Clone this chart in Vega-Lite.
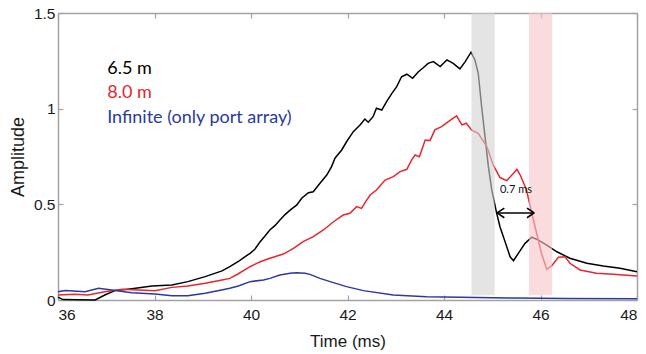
{
  "$schema": "https://vega.github.io/schema/vega-lite/v6.json",
  "width": 579,
  "height": 287,
  "autosize": {"type": "none"},
  "padding": {"left": 58, "top": 13, "right": 9, "bottom": 54},
  "background": "white",
  "config": {
    "view": {"stroke": null},
    "axis": {
      "grid": false,
      "domainColor": "#a3a3a3",
      "domainWidth": 1.5,
      "tickColor": "#a3a3a3",
      "tickSize": -5,
      "tickWidth": 1.2,
      "labelFont": "Liberation Sans, Arial, sans-serif",
      "labelFontSize": 15.5,
      "labelColor": "#1a1a1a",
      "titleFont": "Liberation Sans, Arial, sans-serif",
      "titleFontWeight": "normal",
      "titleColor": "#1a1a1a",
      "format": "~g"
    }
  },
  "datasets": {
    "curves": [
      {"s": "6.5 m", "t": 36.0, "a": 0.015},
      {"s": "6.5 m", "t": 36.1, "a": 0.002},
      {"s": "6.5 m", "t": 36.77, "a": 0.0},
      {"s": "6.5 m", "t": 36.97, "a": 0.026},
      {"s": "6.5 m", "t": 37.18, "a": 0.049},
      {"s": "6.5 m", "t": 37.53, "a": 0.059},
      {"s": "6.5 m", "t": 37.95, "a": 0.073},
      {"s": "6.5 m", "t": 38.36, "a": 0.078},
      {"s": "6.5 m", "t": 38.69, "a": 0.096},
      {"s": "6.5 m", "t": 39.05, "a": 0.122},
      {"s": "6.5 m", "t": 39.4, "a": 0.152},
      {"s": "6.5 m", "t": 39.56, "a": 0.174},
      {"s": "6.5 m", "t": 39.73, "a": 0.2},
      {"s": "6.5 m", "t": 39.85, "a": 0.222},
      {"s": "6.5 m", "t": 39.98, "a": 0.244},
      {"s": "6.5 m", "t": 40.08, "a": 0.265},
      {"s": "6.5 m", "t": 40.19, "a": 0.305},
      {"s": "6.5 m", "t": 40.29, "a": 0.335},
      {"s": "6.5 m", "t": 40.39, "a": 0.366},
      {"s": "6.5 m", "t": 40.5, "a": 0.39},
      {"s": "6.5 m", "t": 40.6, "a": 0.418},
      {"s": "6.5 m", "t": 40.7, "a": 0.445},
      {"s": "6.5 m", "t": 40.81, "a": 0.47},
      {"s": "6.5 m", "t": 40.95, "a": 0.497},
      {"s": "6.5 m", "t": 41.05, "a": 0.532},
      {"s": "6.5 m", "t": 41.19, "a": 0.561},
      {"s": "6.5 m", "t": 41.29, "a": 0.566},
      {"s": "6.5 m", "t": 41.43, "a": 0.61},
      {"s": "6.5 m", "t": 41.57, "a": 0.653},
      {"s": "6.5 m", "t": 41.67, "a": 0.697},
      {"s": "6.5 m", "t": 41.74, "a": 0.741},
      {"s": "6.5 m", "t": 41.88, "a": 0.784},
      {"s": "6.5 m", "t": 41.98, "a": 0.827},
      {"s": "6.5 m", "t": 42.12, "a": 0.88},
      {"s": "6.5 m", "t": 42.26, "a": 0.915},
      {"s": "6.5 m", "t": 42.36, "a": 0.946},
      {"s": "6.5 m", "t": 42.43, "a": 0.929},
      {"s": "6.5 m", "t": 42.53, "a": 0.958},
      {"s": "6.5 m", "t": 42.6, "a": 1.002},
      {"s": "6.5 m", "t": 42.71, "a": 0.993},
      {"s": "6.5 m", "t": 42.81, "a": 1.037},
      {"s": "6.5 m", "t": 42.92, "a": 1.08},
      {"s": "6.5 m", "t": 43.02, "a": 1.115},
      {"s": "6.5 m", "t": 43.12, "a": 1.167},
      {"s": "6.5 m", "t": 43.23, "a": 1.18},
      {"s": "6.5 m", "t": 43.35, "a": 1.159},
      {"s": "6.5 m", "t": 43.47, "a": 1.193},
      {"s": "6.5 m", "t": 43.57, "a": 1.214},
      {"s": "6.5 m", "t": 43.67, "a": 1.237},
      {"s": "6.5 m", "t": 43.78, "a": 1.246},
      {"s": "6.5 m", "t": 43.92, "a": 1.22},
      {"s": "6.5 m", "t": 44.06, "a": 1.255},
      {"s": "6.5 m", "t": 44.19, "a": 1.237},
      {"s": "6.5 m", "t": 44.33, "a": 1.208},
      {"s": "6.5 m", "t": 44.44, "a": 1.246},
      {"s": "6.5 m", "t": 44.56, "a": 1.295},
      {"s": "6.5 m", "t": 44.64, "a": 1.255},
      {"s": "6.5 m", "t": 44.71, "a": 1.185},
      {"s": "6.5 m", "t": 44.78, "a": 1.01},
      {"s": "6.5 m", "t": 44.85, "a": 0.854},
      {"s": "6.5 m", "t": 44.92, "a": 0.697},
      {"s": "6.5 m", "t": 44.99, "a": 0.575},
      {"s": "6.5 m", "t": 45.09, "a": 0.455},
      {"s": "6.5 m", "t": 45.16, "a": 0.383},
      {"s": "6.5 m", "t": 45.3, "a": 0.279},
      {"s": "6.5 m", "t": 45.37, "a": 0.226},
      {"s": "6.5 m", "t": 45.44, "a": 0.205},
      {"s": "6.5 m", "t": 45.54, "a": 0.244},
      {"s": "6.5 m", "t": 45.68, "a": 0.296},
      {"s": "6.5 m", "t": 45.82, "a": 0.328},
      {"s": "6.5 m", "t": 45.95, "a": 0.314},
      {"s": "6.5 m", "t": 46.13, "a": 0.287},
      {"s": "6.5 m", "t": 46.34, "a": 0.252},
      {"s": "6.5 m", "t": 46.61, "a": 0.218},
      {"s": "6.5 m", "t": 46.96, "a": 0.192},
      {"s": "6.5 m", "t": 47.3, "a": 0.178},
      {"s": "6.5 m", "t": 47.65, "a": 0.166},
      {"s": "6.5 m", "t": 48.0, "a": 0.148},
      {"s": "8.0 m", "t": 36.0, "a": 0.026},
      {"s": "8.0 m", "t": 36.35, "a": 0.03},
      {"s": "8.0 m", "t": 36.62, "a": 0.026},
      {"s": "8.0 m", "t": 36.97, "a": 0.043},
      {"s": "8.0 m", "t": 37.33, "a": 0.056},
      {"s": "8.0 m", "t": 37.66, "a": 0.052},
      {"s": "8.0 m", "t": 38.01, "a": 0.049},
      {"s": "8.0 m", "t": 38.36, "a": 0.066},
      {"s": "8.0 m", "t": 38.69, "a": 0.073},
      {"s": "8.0 m", "t": 39.05, "a": 0.087},
      {"s": "8.0 m", "t": 39.4, "a": 0.105},
      {"s": "8.0 m", "t": 39.56, "a": 0.113},
      {"s": "8.0 m", "t": 39.73, "a": 0.136},
      {"s": "8.0 m", "t": 39.98, "a": 0.174},
      {"s": "8.0 m", "t": 40.19, "a": 0.2},
      {"s": "8.0 m", "t": 40.39, "a": 0.218},
      {"s": "8.0 m", "t": 40.67, "a": 0.24},
      {"s": "8.0 m", "t": 40.88, "a": 0.27},
      {"s": "8.0 m", "t": 41.08, "a": 0.305},
      {"s": "8.0 m", "t": 41.29, "a": 0.331},
      {"s": "8.0 m", "t": 41.5, "a": 0.366},
      {"s": "8.0 m", "t": 41.71, "a": 0.409},
      {"s": "8.0 m", "t": 41.91, "a": 0.444},
      {"s": "8.0 m", "t": 42.05, "a": 0.453},
      {"s": "8.0 m", "t": 42.19, "a": 0.488},
      {"s": "8.0 m", "t": 42.29, "a": 0.479},
      {"s": "8.0 m", "t": 42.4, "a": 0.523},
      {"s": "8.0 m", "t": 42.47, "a": 0.549},
      {"s": "8.0 m", "t": 42.6, "a": 0.575},
      {"s": "8.0 m", "t": 42.78, "a": 0.627},
      {"s": "8.0 m", "t": 42.95, "a": 0.645},
      {"s": "8.0 m", "t": 43.09, "a": 0.671},
      {"s": "8.0 m", "t": 43.23, "a": 0.683},
      {"s": "8.0 m", "t": 43.33, "a": 0.732},
      {"s": "8.0 m", "t": 43.4, "a": 0.758},
      {"s": "8.0 m", "t": 43.49, "a": 0.749},
      {"s": "8.0 m", "t": 43.61, "a": 0.836},
      {"s": "8.0 m", "t": 43.71, "a": 0.833},
      {"s": "8.0 m", "t": 43.81, "a": 0.889},
      {"s": "8.0 m", "t": 43.95, "a": 0.906},
      {"s": "8.0 m", "t": 44.09, "a": 0.932},
      {"s": "8.0 m", "t": 44.26, "a": 0.962},
      {"s": "8.0 m", "t": 44.37, "a": 0.915},
      {"s": "8.0 m", "t": 44.46, "a": 0.924},
      {"s": "8.0 m", "t": 44.57, "a": 0.889},
      {"s": "8.0 m", "t": 44.71, "a": 0.871},
      {"s": "8.0 m", "t": 44.89, "a": 0.801},
      {"s": "8.0 m", "t": 45.02, "a": 0.706},
      {"s": "8.0 m", "t": 45.16, "a": 0.64},
      {"s": "8.0 m", "t": 45.3, "a": 0.624},
      {"s": "8.0 m", "t": 45.44, "a": 0.662},
      {"s": "8.0 m", "t": 45.51, "a": 0.683},
      {"s": "8.0 m", "t": 45.58, "a": 0.653},
      {"s": "8.0 m", "t": 45.71, "a": 0.575},
      {"s": "8.0 m", "t": 45.82, "a": 0.453},
      {"s": "8.0 m", "t": 45.92, "a": 0.349},
      {"s": "8.0 m", "t": 46.02, "a": 0.244},
      {"s": "8.0 m", "t": 46.13, "a": 0.16},
      {"s": "8.0 m", "t": 46.23, "a": 0.178},
      {"s": "8.0 m", "t": 46.37, "a": 0.223},
      {"s": "8.0 m", "t": 46.51, "a": 0.226},
      {"s": "8.0 m", "t": 46.61, "a": 0.192},
      {"s": "8.0 m", "t": 46.82, "a": 0.157},
      {"s": "8.0 m", "t": 47.16, "a": 0.14},
      {"s": "8.0 m", "t": 47.51, "a": 0.134},
      {"s": "8.0 m", "t": 48.0, "a": 0.125},
      {"s": "Infinite", "t": 36.0, "a": 0.043},
      {"s": "Infinite", "t": 36.15, "a": 0.049},
      {"s": "Infinite", "t": 36.56, "a": 0.043},
      {"s": "Infinite", "t": 36.84, "a": 0.061},
      {"s": "Infinite", "t": 37.11, "a": 0.052},
      {"s": "Infinite", "t": 37.53, "a": 0.038},
      {"s": "Infinite", "t": 38.01, "a": 0.031},
      {"s": "Infinite", "t": 38.36, "a": 0.022},
      {"s": "Infinite", "t": 38.69, "a": 0.022},
      {"s": "Infinite", "t": 39.05, "a": 0.035},
      {"s": "Infinite", "t": 39.39, "a": 0.052},
      {"s": "Infinite", "t": 39.56, "a": 0.061},
      {"s": "Infinite", "t": 39.74, "a": 0.073},
      {"s": "Infinite", "t": 39.98, "a": 0.096},
      {"s": "Infinite", "t": 40.26, "a": 0.105},
      {"s": "Infinite", "t": 40.39, "a": 0.113},
      {"s": "Infinite", "t": 40.6, "a": 0.131},
      {"s": "Infinite", "t": 40.81, "a": 0.14},
      {"s": "Infinite", "t": 40.95, "a": 0.143},
      {"s": "Infinite", "t": 41.12, "a": 0.14},
      {"s": "Infinite", "t": 41.22, "a": 0.134},
      {"s": "Infinite", "t": 41.43, "a": 0.113},
      {"s": "Infinite", "t": 41.64, "a": 0.096},
      {"s": "Infinite", "t": 41.98, "a": 0.07},
      {"s": "Infinite", "t": 42.33, "a": 0.049},
      {"s": "Infinite", "t": 42.95, "a": 0.026},
      {"s": "Infinite", "t": 43.64, "a": 0.017},
      {"s": "Infinite", "t": 44.33, "a": 0.014},
      {"s": "Infinite", "t": 45.5, "a": 0.01},
      {"s": "Infinite", "t": 46.5, "a": 0.008},
      {"s": "Infinite", "t": 48.0, "a": 0.006}
    ],
    "bands": [
      {"s": "gray band", "t": 44.57, "t2": 45.05, "lo": 0.025, "hi": 1.5},
      {"s": "pink band", "t": 45.76, "t2": 46.24, "lo": 0.025, "hi": 1.5}
    ],
    "arrow": [
      {"t": 45.1, "a": 0.455, "t2": 45.87, "a2": 0.455},
      {"t": 45.1, "a": 0.455, "t2": 45.25, "a2": 0.48},
      {"t": 45.1, "a": 0.455, "t2": 45.25, "a2": 0.43},
      {"t": 45.87, "a": 0.455, "t2": 45.72, "a2": 0.48},
      {"t": 45.87, "a": 0.455, "t2": 45.72, "a2": 0.43}
    ],
    "labels": [
      {"s": "6.5 m", "text": "6.5 m", "t": 37.02, "a": 1.181},
      {"s": "8.0 m", "text": "8.0 m", "t": 37.02, "a": 1.056},
      {"s": "Infinite", "text": "Infinite (only port array)", "t": 37.02, "a": 0.925}
    ],
    "note": [
      {"text": "0.7 ms", "t": 45.16, "a": 0.561}
    ]
  },
  "layer": [
    {
      "data": {"name": "curves"},
      "mark": {"type": "line", "strokeWidth": 1.5},
      "encoding": {
        "x": {
          "field": "t", "type": "quantitative",
          "scale": {"domain": [36, 48], "nice": false, "zero": false},
          "axis": {
            "orient": "bottom", "values": [36, 38, 40, 42, 44, 46, 48],
            "title": "Time (ms)", "titleFontSize": 17, "labelPadding": 12,
            "titleBaseline": "alphabetic", "titleY": 46
          }
        },
        "y": {
          "field": "a", "type": "quantitative",
          "scale": {"domain": [0, 1.5], "nice": false},
          "axis": {
            "orient": "left", "values": [0, 0.5, 1, 1.5],
            "title": "Amplitude", "titleFontSize": 18, "labelPadding": 8,
            "titleX": -40, "titleY": 143.5, "titleBaseline": "middle", "titleAlign": "center"
          }
        },
        "color": {
          "field": "s", "type": "nominal",
          "scale": {
            "domain": ["6.5 m", "8.0 m", "Infinite", "gray band", "pink band"],
            "range": ["#000000", "#e8262b", "#2b3a9e", "#d2d2d2", "#f6c5c8"]
          },
          "legend": null
        }
      }
    },
    {
      "data": {"name": "bands"},
      "mark": {"type": "rect", "opacity": 0.6},
      "encoding": {
        "x": {
          "field": "t", "type": "quantitative",
          "axis": {"orient": "top", "values": [36, 38, 40, 42, 44, 46, 48], "labels": false, "title": null}
        },
        "x2": {"field": "t2"},
        "y": {
          "field": "lo", "type": "quantitative",
          "axis": {"orient": "right", "values": [0, 0.5, 1, 1.5], "labels": false, "title": null}
        },
        "y2": {"field": "hi"},
        "color": {"field": "s", "type": "nominal", "legend": null}
      }
    },
    {
      "data": {"name": "arrow"},
      "mark": {"type": "rule", "color": "#000000", "strokeWidth": 1.6},
      "encoding": {
        "x": {"field": "t", "type": "quantitative", "axis": null},
        "x2": {"field": "t2"},
        "y": {"field": "a", "type": "quantitative", "axis": null},
        "y2": {"field": "a2"}
      }
    },
    {
      "data": {"name": "labels"},
      "mark": {"type": "text", "font": "Lato", "fontSize": 18, "align": "left", "baseline": "alphabetic"},
      "encoding": {
        "x": {"field": "t", "type": "quantitative", "axis": null},
        "y": {"field": "a", "type": "quantitative", "axis": null},
        "text": {"field": "text"},
        "color": {"field": "s", "type": "nominal", "legend": null}
      }
    },
    {
      "data": {"name": "note"},
      "mark": {"type": "text", "font": "Lato", "fontSize": 11, "align": "left", "baseline": "alphabetic", "color": "#111111"},
      "encoding": {
        "x": {"field": "t", "type": "quantitative", "axis": null},
        "y": {"field": "a", "type": "quantitative", "axis": null},
        "text": {"field": "text"}
      }
    }
  ],
  "resolve": {"axis": {"x": "independent", "y": "independent"}}
}
